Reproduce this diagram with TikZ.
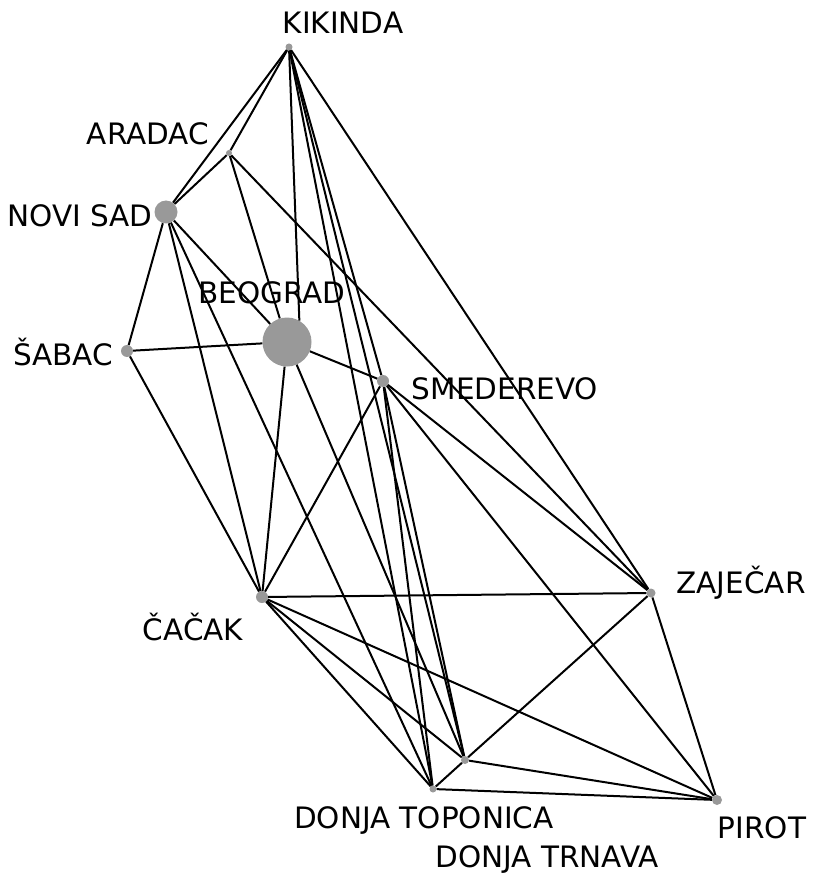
\documentclass[tikz,border=0pt]{standalone}
\usepackage{fontspec}
\setmainfont{DejaVu Sans}
\begin{document}
\begin{tikzpicture}[x=1pt,y=-1pt,
  dot/.style={circle,fill=black!40,inner sep=0pt,minimum size=#1},
  lbl/.style={font=\fontsize{29.5}{30}\selectfont,inner sep=0pt,anchor=base},
  edge/.style={line width=2pt,black}]
\useasboundingbox (0,0) rectangle (825,874);
% nodes
\node[dot=7pt]  (K) at (289,47) {};
\node[dot=6pt]  (A) at (229,153) {};
\node[dot=23pt] (N) at (166,212) {};
\node[dot=49pt] (B) at (287,342) {};
\node[dot=12pt] (S) at (127,351) {};
\node[dot=12pt] (M) at (383,381) {};
\node[dot=12pt] (C) at (262,597) {};
\node[dot=9pt]  (Z) at (651,593) {};
\node[dot=7pt]  (T) at (433,789) {};
\node[dot=8pt]  (R) at (465,760) {};
\node[dot=10pt] (P) at (717,800) {};
% labels
\node[lbl] (lK) at (343,34) {KIKINDA};
\node[lbl] (lA) at (148,145) {ARADAC};
\node[lbl] (lN) at (80,227) {NOVI SAD};
\node[lbl] (lB) at (272,303) {BEOGRAD};
\node[lbl] (lS) at (63,365) {ŠABAC};
\node[lbl] (lM) at (505,399) {SMEDEREVO};
\node[lbl] (lZ) at (741,593) {ZAJEČAR};
\node[lbl] (lC) at (193,640) {ČAČAK};
\node[lbl] (lT) at (424,828) {DONJA TOPONICA};
\node[lbl] (lR) at (547,867) {DONJA TRNAVA};
\node[lbl] (lP) at (762,838) {PIROT};
% edges
\draw[edge] (K) -- (N);
\draw[edge] (K) -- (A);
\draw[edge] (K) -- (B.60);
\draw[edge] (K) -- (M);
\draw[edge] (K) -- (T);
\draw[edge] (K) -- (R);
\draw[edge] (K) -- (Z);
\draw[edge] (A) -- (N);
\draw[edge] (A) -- (B);
\draw[edge] (A) -- (Z);
\draw[edge] (N) -- (S);
\draw[edge] (N) -- (B);
\draw[edge] (N) -- (C);
\draw[edge] (N) -- (T);
\draw[edge] (B) -- (S);
\draw[edge] (B) -- (M);
\draw[edge] (B) -- (C);
\draw[edge] (B) -- (R);
\draw[edge] (S) -- (C);
\draw[edge] (M) -- (C);
\draw[edge] (M) -- (T);
\draw[edge] (M) -- (R);
\draw[edge] (M) -- (Z);
\draw[edge] (M) -- (P);
\draw[edge] (C) -- (Z);
\draw[edge] (C) -- (P);
\draw[edge] (C) -- (R);
\draw[edge] (C) -- (T);
\draw[edge] (Z) -- (P);
\draw[edge] (Z) -- (R);
\draw[edge] (R) -- (T);
\draw[edge] (T) -- (P);
\draw[edge] (R) -- (P);
\end{tikzpicture}
\end{document}
